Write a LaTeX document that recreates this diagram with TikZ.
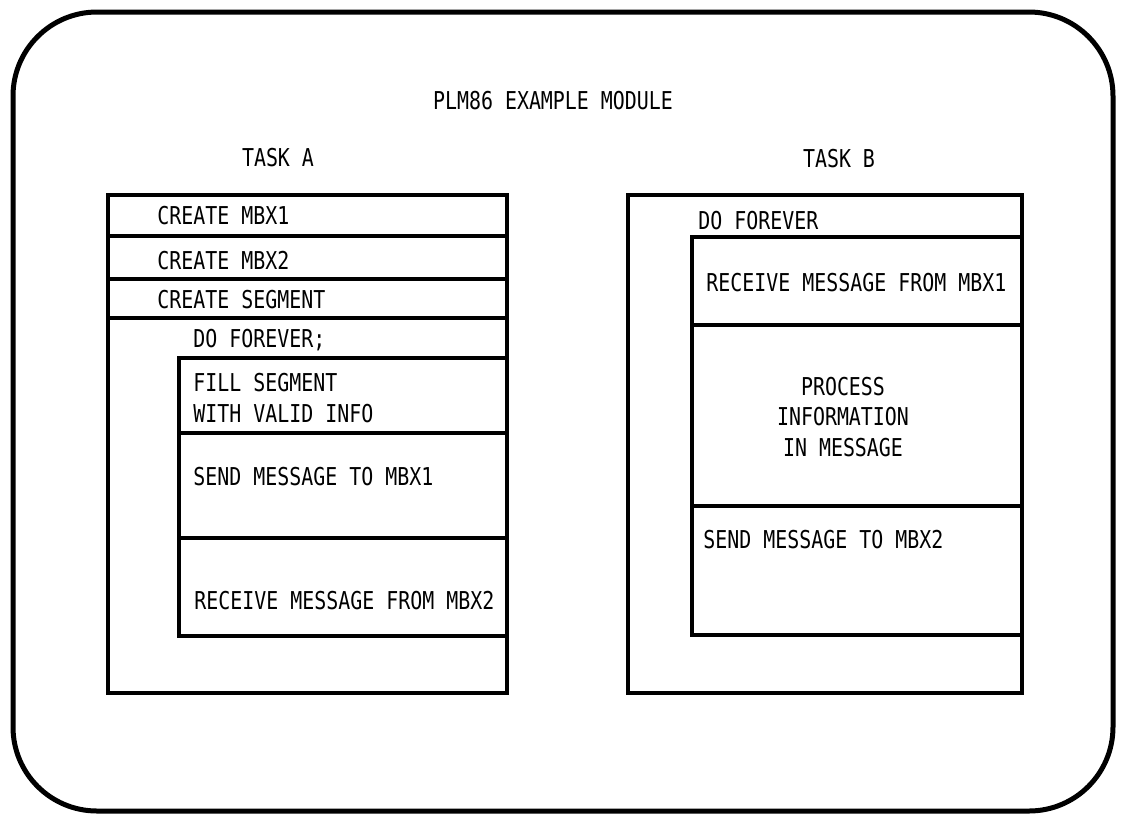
\documentclass[tikz,border=0pt]{standalone}
\usepackage{fontspec}
\newfontfamily\plmfont[FakeStretch=0.81]{DejaVu Sans Mono}

\begin{document}
\begin{tikzpicture}[x=0.5pt, y=-0.5pt,
    txt/.style={font=\plmfont\fontsize{12.3}{15.3}\selectfont, inner sep=0pt},
    box/.style={line width=1.7pt}]
  \useasboundingbox (0,0) rectangle (1126,816);
  \draw[line width=2.5pt, rounded corners=42pt] (13,12) rectangle (1113,811);
  \node[txt] (title) at (553,101) {PLM86 EXAMPLE MODULE};
  \node[txt] (taskA) at (278,158) {TASK A};
  \node[txt] (taskB) at (839,159) {TASK B};
  % task A
  \draw[box] (108,195) rectangle (507,693);
  \draw[box] (108,236) -- (507,236) (108,279) -- (507,279)
    (108,318) -- (507,318);
  \draw[box] (179,358) rectangle (507,636);
  \draw[box] (179,433) -- (507,433) (179,538) -- (507,538);
  \node[txt, anchor=west] (mbx1) at (157,216) {CREATE MBX1};
  \node[txt, anchor=west] (mbx2) at (157,261) {CREATE MBX2};
  \node[txt, anchor=west] (seg) at (157,300) {CREATE SEGMENT};
  \node[txt, anchor=west] (loopA) at (193,340) {DO FOREVER;};
  \node[txt, anchor=west, align=left] (fill) at (193,398)
    {FILL SEGMENT\\WITH VALID INFO};
  \node[txt, anchor=west] (sendA) at (193,477) {SEND MESSAGE TO MBX1};
  \node[txt, anchor=west] (recvA) at (194,601) {RECEIVE MESSAGE FROM MBX2};
  % task B
  \draw[box] (628,195) rectangle (1022,693);
  \draw[box] (692,237) rectangle (1022,635);
  \draw[box] (692,325) -- (1022,325) (692,506) -- (1022,506);
  \node[txt, anchor=west] (loopB) at (698,221) {DO FOREVER};
  \node[txt, anchor=west] (recvB) at (706,283) {RECEIVE MESSAGE FROM MBX1};
  \node[txt, align=center] (proc) at (843,417)
    {PROCESS\\INFORMATION\\IN MESSAGE};
  \node[txt, anchor=west] (sendB) at (703,540) {SEND MESSAGE TO MBX2};
\end{tikzpicture}
\end{document}
